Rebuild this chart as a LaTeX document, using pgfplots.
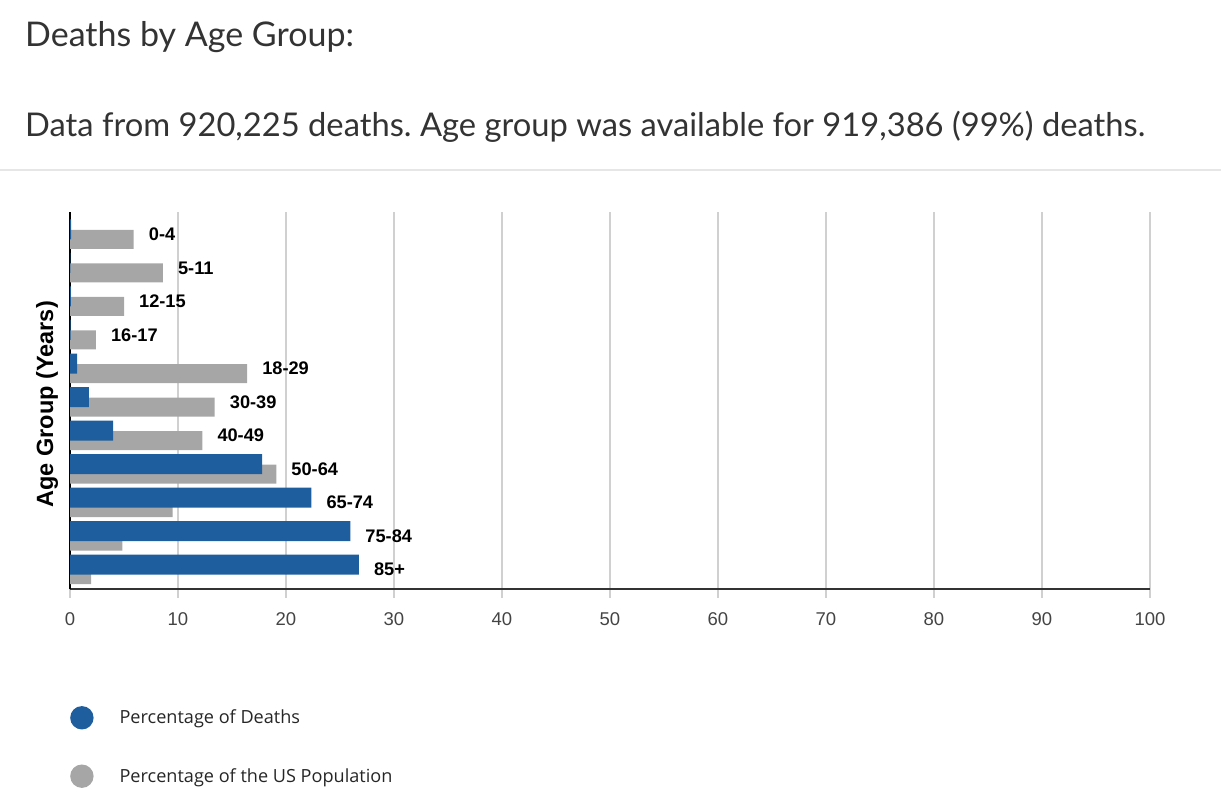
\documentclass[border=0pt]{standalone}
\usepackage{pgfplots}
\pgfplotsset{compat=1.18}
\usepackage{fontspec}
\setmainfont{Liberation Sans}
\newfontfamily\lato{Lato}
\newfontfamily\opensans{Open Sans}
\definecolor{cblue}{RGB}{31,94,158}
\definecolor{cgray}{RGB}{166,166,166}
\definecolor{ctitle}{RGB}{51,51,51}
\definecolor{cgrid}{RGB}{208,208,208}
\definecolor{caxis}{RGB}{51,51,51}
\definecolor{ctick}{RGB}{68,68,68}
\definecolor{csep}{RGB}{230,230,230}
\frenchspacing
\begin{document}
\begin{tikzpicture}
\useasboundingbox (0pt,0pt) rectangle (1221pt,-807pt);
% heading
\node[anchor=base west, inner sep=0pt, text=ctitle, font=\lato\fontsize{34}{40}\selectfont]
  at (25pt,-46pt) {Deaths by Age Group:};
\node[anchor=base west, inner sep=0pt, text=ctitle, font=\lato\fontsize{32.7}{38}\selectfont]
  at (25pt,-136pt) {Data from 920,225 deaths. Age group was available for 919,386 (99\%) deaths.};
\draw[csep, line width=1.5pt] (0pt,-170pt) -- (1221pt,-170pt);

\begin{axis}[
    at={(70pt,-589pt)}, anchor=south west,
    scale only axis, width=1080pt, height=377pt,
    xmin=0, xmax=100, ymin=-0.58, ymax=10.67,
    axis x line*=bottom, axis y line*=left,
    axis line style={-},
    x axis line style={caxis, line width=1.3pt},
    y axis line style={black, line width=1.2pt},
    xtick={0,10,...,100}, ytick=\empty,
    xmajorgrids,
    major grid style={cgrid, line width=1.3pt},
    tick align=outside, major tick length=9pt,
    every tick/.style={cgrid, line width=1.3pt},
    /pgf/number format/assume math mode=true,
    xticklabel style={font=\fontsize{18.5}{18.5}\selectfont, text=ctick, yshift=-11pt},
    ylabel={Age Group (Years)},
    ylabel style={font=\bfseries\fontsize{23.5}{23.5}\selectfont,
      at={(axis description cs:-0.0213,0.49)}, anchor=center},
    reverse legend,
    legend image code/.code={\fill[#1] (11.7pt,0pt) circle[radius=11.7pt];},
    legend style={at={(axis description cs:0,-0.31)}, anchor=north west,
      draw=none, fill=none, inner sep=0pt, row sep=35pt,
      font=\opensans\fontsize{18.1}{21}\selectfont, text=black!85,
      /tikz/every odd column/.append style={column sep=24pt}},
    legend cell align=left,
]
\addplot[xbar, bar width=19pt, bar shift=-5pt, fill=cgray, draw=none] coordinates {
  (5.9,10) (8.6,9) (5.0,8) (2.4,7) (16.4,6) (13.4,5)
  (12.25,4) (19.1,3) (9.5,2) (4.85,1) (1.95,0)
};
\addlegendentry{Percentage of the US Population}
\addplot[xbar, bar width=20pt, bar shift=5pt, fill=cblue, draw=none] coordinates {
  (0.1,10) (0.03,9) (0.08,8) (0.05,7) (0.65,6) (1.75,5)
  (4.0,4) (17.8,3) (22.35,2) (25.95,1) (26.75,0)
};
\addlegendentry{Percentage of Deaths}
% category labels to the right of each pair
\addplot[forget plot, draw=none, nodes near coords, point meta=explicit symbolic,
  every node near coord/.append style={anchor=west, xshift=15pt, inner sep=0pt,
    font=\bfseries\fontsize{18.2}{18.2}\selectfont, text=black}] coordinates {
  (5.9,10) [0-4] (8.6,9) [5-11] (5.0,8) [12-15] (2.4,7) [16-17]
  (16.4,6) [18-29] (13.4,5) [30-39] (12.25,4) [40-49] (19.1,3) [50-64]
  (22.35,2) [65-74] (25.95,1) [75-84] (26.75,0) [85+]
};
\end{axis}
\end{tikzpicture}
\end{document}
